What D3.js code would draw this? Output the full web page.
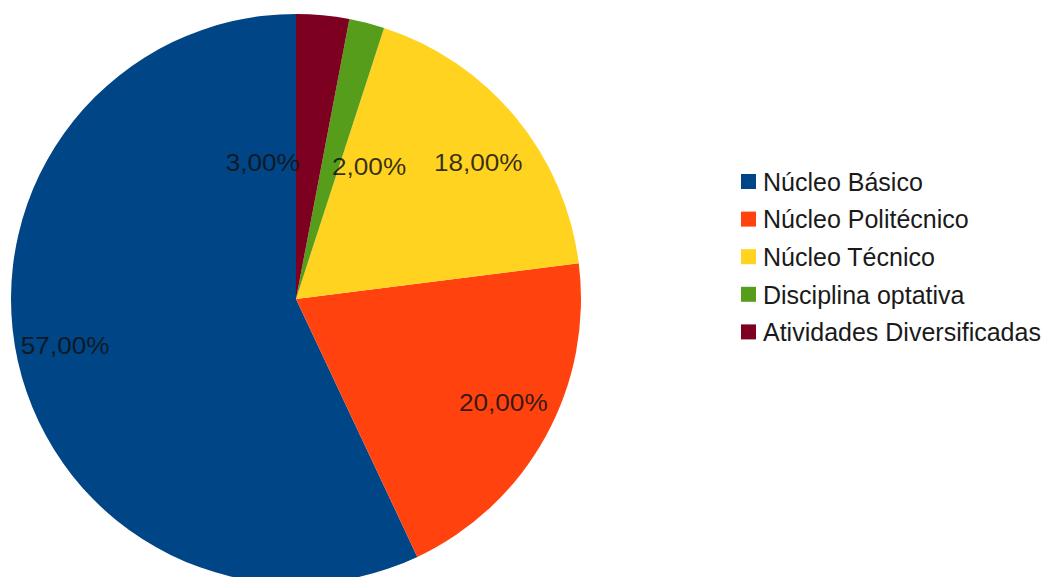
<!DOCTYPE html>
<html>
<head>
<meta charset="utf-8">
<script src="https://cdn.jsdelivr.net/npm/d3@7"></script>
<style>
  body { margin: 0; background: #fff; }
  text { font-family: "Liberation Sans", Arial, sans-serif; }
</style>
</head>
<body>
<svg id="chart" width="1047" height="577"></svg>
<script>
var categories = ["Núcleo Básico", "Núcleo Politécnico", "Núcleo Técnico", "Disciplina optativa", "Atividades Diversificadas"];
var values = [57, 20, 18, 2, 3];
var colors = ["#004586", "#ff420e", "#ffd320", "#579d1c", "#7e0021"];

var svg = d3.select("#chart");
var cx = 296, cy = 299, radius = 285;

var data = categories.map(function (c, i) {
    return {name: c, value: values[i], color: colors[i]};
});

// slices go counter-clockwise from 12 o'clock, first series first
var pie = d3.pie()
    .sort(null)
    .value(function (d) { return d.value; })
    .startAngle(0)
    .endAngle(-2 * Math.PI);

var arc = d3.arc().innerRadius(0).outerRadius(radius);
var labelArc = d3.arc().innerRadius(radius * 0.83).outerRadius(radius * 0.83);
var smallArc = d3.arc().innerRadius(radius * 0.48).outerRadius(radius * 0.48);

var g = svg.append("g").attr("transform", "translate(" + cx + "," + cy + ")");
var arcs = pie(data);

g.selectAll("path")
    .data(arcs)
    .enter()
    .append("path")
    .attr("d", arc)
    .attr("fill", function (d) { return d.data.color; });

var total = d3.sum(values);
var fmt = function (v) { return d3.format(".2f")(v / total * 100).replace(".", ",") + "%"; };
var isSmall = function (d) { return d.data.value / total < 0.05; };
var midAngle = function (d) { return (d.startAngle + d.endAngle) / 2; };

// small slices near the top: the one nearer 12 o'clock ends before its neighbour starts
var smalls = arcs.filter(isSmall).sort(function (a, b) {
    var ma = (midAngle(a) + 4 * Math.PI) % (2 * Math.PI);
    var mb = (midAngle(b) + 4 * Math.PI) % (2 * Math.PI);
    return ma - mb;
});

g.selectAll("text.lbl")
    .data(arcs)
    .enter()
    .append("text")
    .attr("class", "lbl")
    .attr("transform", function (d) {
        var p, dx = 0, dy = 0;
        if (isSmall(d)) {
            p = smallArc.centroid(d);
            dx = smalls.indexOf(d) === 0 ? -9 : 2;
        } else {
            p = labelArc.centroid(d);
            dy = 22 * Math.cos(midAngle(d));
        }
        return "translate(" + (p[0] + dx) + "," + (p[1] + dy) + ") scale(1.09,1)";
    })
    .attr("text-anchor", function (d) {
        if (!isSmall(d)) return "middle";
        return smalls.indexOf(d) === 0 ? "end" : "start";
    })
    .attr("dy", "0.35em")
    .attr("font-size", 24)
    .attr("fill", "#111")
    .attr("fill-opacity", 0.85)
    .text(function (d) { return fmt(d.data.value); });

// legend
var legend = svg.append("g").attr("transform", "translate(741,174)");
var rowY = d3.scaleBand().domain(categories).range([0, 188]);

var item = legend.selectAll("g")
    .data(data)
    .enter()
    .append("g")
    .attr("transform", function (d) { return "translate(0," + rowY(d.name) + ")"; });

item.append("rect")
    .attr("width", 15)
    .attr("height", 15)
    .attr("fill", function (d) { return d.color; });

item.append("text")
    .attr("x", 22)
    .attr("y", 8)
    .attr("dy", "0.35em")
    .attr("font-size", 25)
    .attr("fill", "#1a1a1a")
    .text(function (d) { return d.name; });
</script>
</body>
</html>
